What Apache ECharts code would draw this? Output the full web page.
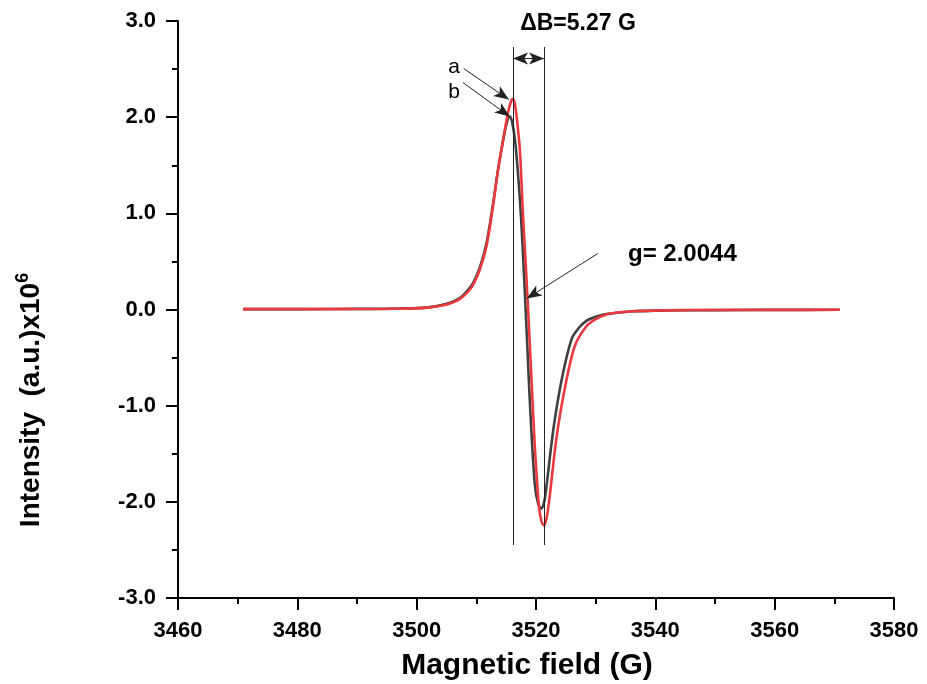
<!DOCTYPE html>
<html>
<head>
<meta charset="utf-8">
<script src="https://cdn.jsdelivr.net/npm/echarts@6/dist/echarts.min.js"></script>
<style>html,body{margin:0;padding:0;background:#fff;}#c{width:927px;height:684px;}</style>
</head>
<body>
<div id="c"></div>
<script>
// ---- data ----
const curveA = [ // red, sample a: [field (G), intensity (a.u. x10^6)]
  [3470.9, 0.004], [3480, 0.004], [3490, 0.005], [3495, 0.007], [3500, 0.012],
  [3502.2, 0.022], [3504, 0.038], [3505.6, 0.062], [3507, 0.10], [3507.8, 0.138],
  [3508.7, 0.19], [3509.5, 0.26], [3510.6, 0.416], [3511.7, 0.658], [3512.8, 1.074],
  [3513.65, 1.455], [3514.5, 1.767], [3515.3, 2.045], [3515.8, 2.16], [3516.1, 2.19],
  [3516.45, 2.14], [3516.8, 1.98], [3517.3, 1.66], [3517.8, 1.01], [3518.3, 0.45],
  [3518.7, -0.03], [3519.25, -0.73], [3519.8, -1.42], [3520.5, -2.05], [3520.95, -2.21],
  [3521.35, -2.245], [3521.8, -2.16], [3522.3, -1.94], [3523.4, -1.35], [3524.8, -0.83],
  [3526.5, -0.38], [3528.45, -0.174], [3530, -0.10], [3531.8, -0.052], [3534, -0.030],
  [3536.3, -0.018], [3540, -0.011], [3544.1, -0.007], [3550, -0.005], [3560, -0.004],
  [3570.9, -0.003]
];
const curveB = [ // dark grey, sample b
  [3470.9, 0.004], [3480, 0.004], [3490, 0.006], [3495, 0.008], [3500, 0.014],
  [3502.2, 0.025], [3504, 0.043], [3505.6, 0.07], [3507, 0.11], [3507.8, 0.15],
  [3508.7, 0.21], [3509.5, 0.28], [3510.6, 0.44], [3511.7, 0.69], [3512.8, 1.10],
  [3513.65, 1.46], [3514.5, 1.76], [3515.1, 1.94], [3515.6, 2.01], [3516.0, 1.95],
  [3516.5, 1.75], [3517.0, 1.40], [3517.5, 0.95], [3518.0, 0.35], [3518.5, -0.32],
  [3519.0, -1.0], [3519.8, -1.82], [3520.4, -2.03], [3520.9, -2.07], [3521.4, -1.99],
  [3521.75, -1.84], [3522.9, -1.25], [3524.3, -0.73], [3525.95, -0.31], [3527.2, -0.19],
  [3528.5, -0.115], [3530, -0.075], [3532, -0.045], [3536, -0.02], [3540, -0.012],
  [3550, -0.006], [3560, -0.004], [3570.9, -0.003]
];
const seriesNames = ['b', 'a'];
const xTicks = { min: 3460, max: 3580, step: 20 };
const yTicks = { min: -3, max: 3, step: 1 };
const deltaB = { left: 3516.15, right: 3521.35, top: 2.73, bottom: -2.45, arrowY: 2.61 };
const arrowA = [[3507.9, 2.505], [3515.45, 2.183]];
const arrowB = [[3507.75, 2.36], [3515.6, 2.006]];
const arrowG = [[3530.35, 0.582], [3518.45, 0.114]];
const texts = { deltaB: 'ΔB=5.27 G', g: 'g= 2.0044', xName: 'Magnetic field (G)', yName: 'Intensity  (a.u.)x10', yExp: '6' };

const FONT = '"Liberation Sans", Arial, sans-serif';
const chart = echarts.init(document.getElementById('c'), null, { renderer: 'canvas' });

const axisCommon = {
  axisLine: { show: true, onZero: false, lineStyle: { color: '#000', width: 2 } },
  axisTick: { show: true, inside: false, length: 12, lineStyle: { color: '#000', width: 2 } },
  minorTick: { show: true, splitNumber: 2, length: 6, lineStyle: { color: '#000', width: 2 } },
  splitLine: { show: false },
  minorSplitLine: { show: false },
  axisLabel: { color: '#000', fontSize: 22, fontWeight: 'bold', fontFamily: FONT, margin: 22 }
};

function seg(p1, p2, s1, s2) {
  return [
    { coord: p1, symbol: s1 || 'none', symbolSize: [9, 15] },
    { coord: p2, symbol: s2 || 'none', symbolSize: [9, 15] }
  ];
}

const option = {
  animation: false,
  backgroundColor: '#fff',
  grid: { left: 178, right: 33, top: 21, bottom: 86 },
  xAxis: Object.assign({
    type: 'value', min: xTicks.min, max: xTicks.max, interval: xTicks.step
  }, axisCommon, {
    axisLabel: Object.assign({}, axisCommon.axisLabel, { formatter: v => String(v) })
  }),
  yAxis: Object.assign({
    type: 'value', min: yTicks.min, max: yTicks.max, interval: yTicks.step
  }, axisCommon, {
    axisLabel: Object.assign({}, axisCommon.axisLabel, { formatter: v => v.toFixed(1) })
  }),
  series: [
    {
      name: seriesNames[0], type: 'line', data: curveB, showSymbol: false, smooth: 0.3,
      lineStyle: { color: '#404040', width: 2.6 }, z: 2
    },
    {
      name: seriesNames[1], type: 'line', data: curveA, showSymbol: false, smooth: 0.3,
      lineStyle: { color: '#ea3a3f', width: 2.6 }, z: 3
    },
    {
      type: 'line', data: [], silent: true, z: 4,
      markLine: {
        silent: true, animation: false,
        label: { show: false },
        lineStyle: { color: '#222', width: 1, type: 'solid' },
        emphasis: { disabled: true },
        data: [
          seg([deltaB.left, deltaB.top], [deltaB.left, deltaB.bottom]),
          seg([deltaB.right, deltaB.top], [deltaB.right, deltaB.bottom]),
          seg([deltaB.left, deltaB.arrowY], [deltaB.right, deltaB.arrowY], 'arrow', 'arrow'),
          seg(arrowA[0], arrowA[1], 'none', 'arrow'),
          seg(arrowB[0], arrowB[1], 'none', 'arrow'),
          seg(arrowG[0], arrowG[1], 'none', 'arrow')
        ]
      }
    }
  ],
  graphic: [
    { type: 'text', x: 578, y: 24, style: { text: texts.deltaB, font: 'bold 23px ' + FONT, fill: '#000', align: 'center', verticalAlign: 'middle' } },
    { type: 'text', x: 454, y: 67, style: { text: 'a', font: '21px ' + FONT, fill: '#000', align: 'center', verticalAlign: 'middle' } },
    { type: 'text', x: 454, y: 92, style: { text: 'b', font: '21px ' + FONT, fill: '#000', align: 'center', verticalAlign: 'middle' } },
    { type: 'text', x: 628, y: 254, style: { text: texts.g, font: 'bold 24px ' + FONT, fill: '#000', align: 'left', verticalAlign: 'middle' } },
    { type: 'text', x: 527, y: 666, style: { text: texts.xName, font: 'bold 30px ' + FONT, fill: '#000', align: 'center', verticalAlign: 'middle' } },
    {
      type: 'text', x: 31, y: 400, rotation: Math.PI / 2,
      style: {
        text: '{m|' + texts.yName + '}{s|' + texts.yExp + '}',
        align: 'center', verticalAlign: 'middle', fill: '#000',
        rich: {
          m: { fontSize: 28, fontWeight: 'bold', fontFamily: FONT, fill: '#000', lineHeight: 34, verticalAlign: 'middle' },
          s: { fontSize: 18, fontWeight: 'bold', fontFamily: FONT, fill: '#000', lineHeight: 34, verticalAlign: 'top' }
        }
      }
    }
  ]
};
chart.setOption(option);
</script>
</body>
</html>
